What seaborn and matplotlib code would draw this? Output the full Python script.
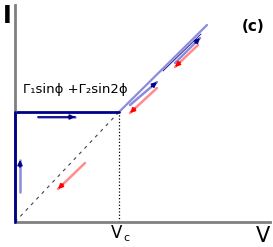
import numpy as np
import seaborn as sns
import matplotlib.pyplot as plt

sns.set_style("white")
plt.rcParams["text.color"] = "black"

# critical point
v_c = 104
i_c = 110

# trace of the I-V curve (data units)
ohmic_v = [0, v_c, 192]
ohmic_i = [0, i_c, 197]
locked_v = [0, v_c]
locked_i = [i_c, i_c]
thin_v = [148, 186]
thin_i = [151, 188]

# arrows: (start, end)
blue_arrows = [((5, 30), (5, 62)), ((23, 105), (60, 105)),
               ((115, 117), (142, 140)), ((160, 159), (185, 184))]
red_arrows = [((70, 59), (43, 33)), ((142, 134), (115, 109)),
              ((183, 177), (160, 155))]

light_blue = "#8c8cdc"
dark_blue = "#000088"
light_red = "#ff8c8c"
red = "#ff0000"

fig = plt.figure(figsize=(2.73, 2.47), dpi=100)
ax = fig.add_axes([15 / 273, 25 / 247, 255 / 273, 217 / 247])
ax.set_xlim(0, 255)
ax.set_ylim(0, 217)

# dashed ohmic line below Vc, dotted Vc marker
sns.lineplot(x=ohmic_v[:2], y=ohmic_i[:2], ax=ax, color="#444444",
             linestyle=(0, (3, 4)), lw=0.8)
ax.plot([v_c, v_c], [0, i_c], color="black", linestyle=":", lw=0.9)

# running branch above Vc
sns.lineplot(x=ohmic_v[1:], y=ohmic_i[1:], ax=ax, color=light_blue, lw=1.6)
ax.plot(thin_v, thin_i, color=dark_blue, lw=0.6)

# locked branch
ax.plot(locked_v, locked_i, color=dark_blue, lw=2, clip_on=False)
ax.plot([0, 0], [0, i_c], color=dark_blue, lw=2, clip_on=False, zorder=5)


def draw_arrow(start, end, shaft, head):
    s = np.array(start, float)
    e = np.array(end, float)
    ax.plot([s[0], e[0]], [s[1], e[1]], color=shaft, lw=1.8)
    d = (e - s) / np.hypot(*(e - s))
    ax.annotate("", xy=e, xytext=e - 7 * d,
                arrowprops=dict(arrowstyle="-|>", color=head, lw=1.2,
                                mutation_scale=7, shrinkA=0, shrinkB=0))


for s, e in blue_arrows:
    draw_arrow(s, e, light_blue, dark_blue)
ax.plot([23, 60], [105, 105], color=dark_blue, lw=1.2)
for s, e in red_arrows:
    draw_arrow(s, e, light_red, red)

# axes look
for side in ["top", "right"]:
    ax.spines[side].set_visible(False)
for side in ["left", "bottom"]:
    ax.spines[side].set_color("#808080")
    ax.spines[side].set_linewidth(2)
ax.set_xticks([])
ax.set_yticks([])

ax.text(23 - 15, 129, "Γ₁sinϕ +Γ₂sin2ϕ", fontsize=9.5, family="DejaVu Sans")
fig.text(3 / 273, 1 - 23 / 247, "I", fontsize=17, fontweight="bold")
fig.text(256 / 273, 1 - 242 / 247, "V", fontsize=15)
fig.text(111 / 273, 1 - 238 / 247, "V", fontsize=12)
fig.text(123 / 273, 1 - 241 / 247, "c", fontsize=8)
fig.text(242 / 273, 1 - 31 / 247, "(c)", fontsize=11, fontweight="bold")

fig.savefig("out.png", dpi=100)
